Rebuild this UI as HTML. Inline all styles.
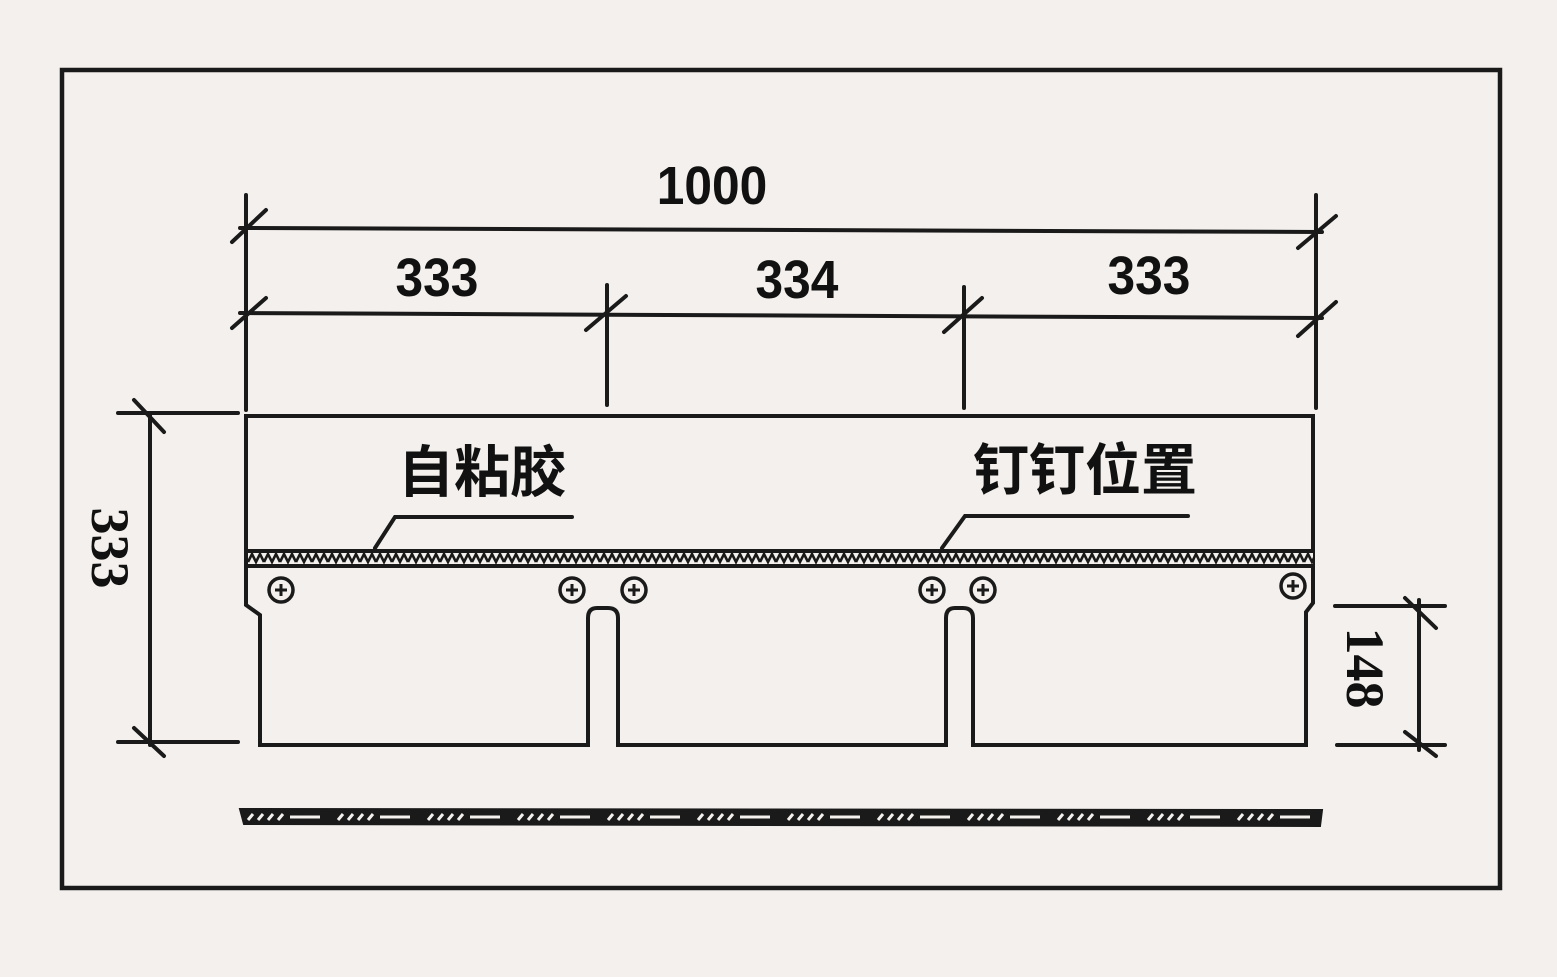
<!DOCTYPE html>
<html><head><meta charset="utf-8"><style>
html,body{margin:0;padding:0;background:#f4f0ed;}
svg{display:block}
</style></head><body>
<svg width="1557" height="977" viewBox="0 0 1557 977" xmlns="http://www.w3.org/2000/svg">
<defs>
<pattern id="zz" x="248" y="549" width="16" height="19" patternUnits="userSpaceOnUse">
<rect width="16" height="19" fill="#f4f0ed"/>
<rect width="16" height="4" fill="#1a1a1a"/>
<rect y="15" width="16" height="4" fill="#1a1a1a"/>
<polyline points="0,13 4,5 8,13 12,5 16,13" fill="none" stroke="#1a1a1a" stroke-width="2.6"/>
</pattern>
<pattern id="hh" x="240" y="809" width="90" height="16" patternUnits="userSpaceOnUse">
<rect width="90" height="16" fill="#1a1a1a"/>
<g stroke="#f4f0ed" stroke-width="3">
<line x1="8" y1="11" x2="13" y2="5"/><line x1="18" y1="11" x2="23" y2="5"/><line x1="28" y1="11" x2="33" y2="5"/><line x1="38" y1="11" x2="43" y2="5"/>
<line x1="50" y1="8" x2="80" y2="8"/>
</g>
</pattern>
</defs>
<rect width="1557" height="977" fill="#f4f0ed"/>
<rect x="62" y="70" width="1438" height="818" fill="none" stroke="#1a1a1a" stroke-width="4.5"/>
<g stroke="#1a1a1a" stroke-width="4" fill="none" stroke-linecap="round">
<line x1="246" y1="195" x2="246" y2="410"/>
<line x1="1316" y1="195" x2="1316" y2="408"/>
<line x1="607" y1="285" x2="607" y2="405"/>
<line x1="964" y1="287" x2="964" y2="408"/>
<line x1="240" y1="228" x2="1322" y2="232"/>
<line x1="240" y1="313" x2="1322" y2="318"/>
<line x1="232" y1="242" x2="266" y2="210"/>
<line x1="1298" y1="248" x2="1336" y2="216"/>
<line x1="232" y1="328" x2="266" y2="298"/>
<line x1="586" y1="330" x2="626" y2="296"/>
<line x1="944" y1="332" x2="982" y2="298"/>
<line x1="1298" y1="336" x2="1336" y2="302"/>
<line x1="118" y1="413" x2="238" y2="413"/>
<line x1="118" y1="742" x2="238" y2="742"/>
<line x1="150" y1="413" x2="150" y2="745"/>
<line x1="134" y1="400" x2="164" y2="432"/>
<line x1="134" y1="728" x2="164" y2="756"/>
<line x1="1335" y1="606" x2="1445" y2="606"/>
<line x1="1337" y1="745" x2="1445" y2="745"/>
<line x1="1419" y1="600" x2="1419" y2="750"/>
<line x1="1405" y1="598" x2="1436" y2="628"/>
<line x1="1405" y1="732" x2="1436" y2="756"/>
<path d="M246,416 L1313,416 L1313,603 L1306,612 L1306,745 L973,745 L973,618 Q973,608 963,608 L955,608 Q946,608 946,618 L946,745 L618,745 L618,618 Q618,608 608,608 L597,608 Q588,608 588,618 L588,745 L260,745 L260,615 L246,605 Z"/>
<polyline points="572,517 395,517 375,548"/>
<polyline points="1188,516 965,516 942,548"/>
</g>
<rect x="248" y="549" width="1065" height="19" fill="url(#zz)"/>
<g fill="none" stroke="#1a1a1a" stroke-width="3.5">
<circle cx="281" cy="590" r="12"/><circle cx="572" cy="590" r="12"/><circle cx="634" cy="590" r="12"/>
<circle cx="932" cy="590" r="12"/><circle cx="983" cy="590" r="12"/><circle cx="1293" cy="586" r="12"/>
</g>
<g stroke="#1a1a1a" stroke-width="3">
<path d="M275,590h12M281,584v12 M566,590h12M572,584v12 M628,590h12M634,584v12 M926,590h12M932,584v12 M977,590h12M983,584v12 M1287,586h12M1293,580v12"/>
</g>
<path d="M240,809 L1322,810 L1320,826 L244,824 Z" fill="url(#hh)" stroke="#1a1a1a" stroke-width="2"/>
<g font-family="Liberation Sans, sans-serif" font-weight="bold" fill="#111" text-anchor="middle" font-size="54">
<text transform="translate(712,204) scale(0.92,1)">1000</text>
<text transform="translate(437,296) scale(0.92,1)">333</text>
<text transform="translate(797,298) scale(0.92,1)">334</text>
<text transform="translate(1149,294) scale(0.92,1)">333</text>
</g>
<g font-family="Liberation Serif, serif" font-weight="bold" fill="#111" text-anchor="middle" font-size="54">
<text transform="translate(92,548) rotate(90)">333</text>
<text transform="translate(1347,668) rotate(90)">148</text>
</g>
<g font-family="Liberation Sans, 'Noto Sans CJK SC', sans-serif" font-weight="bold" fill="#111" text-anchor="middle" font-size="56">
<text x="482" y="492">自粘胶</text>
<text x="1085" y="490">钉钉位置</text>
</g>
</svg>
</body></html>
